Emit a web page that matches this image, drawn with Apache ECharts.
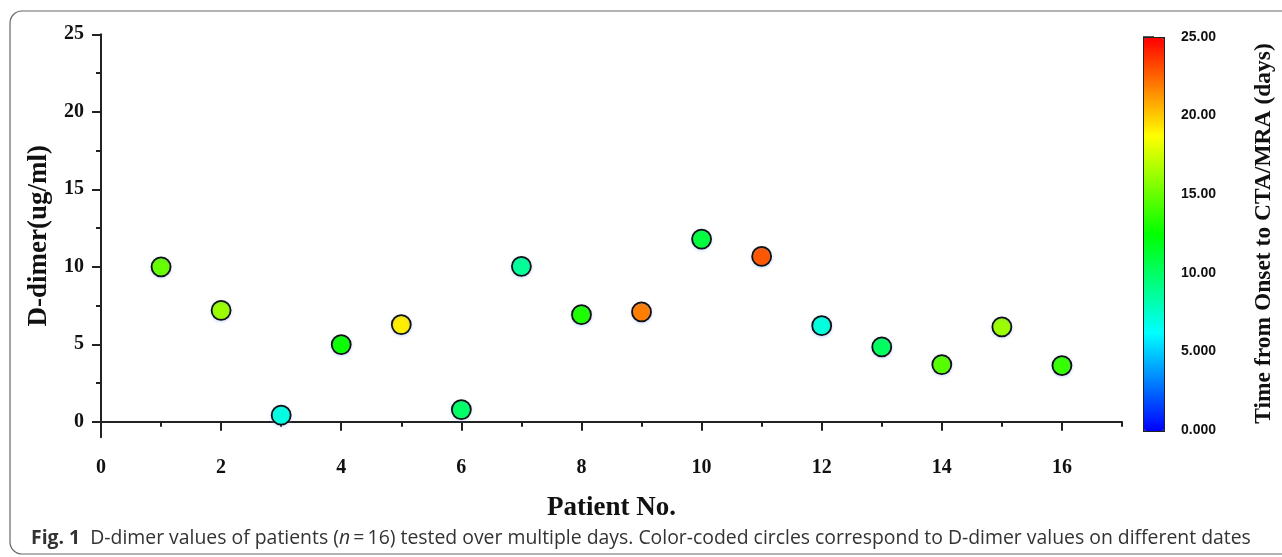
<!DOCTYPE html>
<html>
<head>
<meta charset="utf-8">
<script src="https://cdn.jsdelivr.net/npm/echarts@6/dist/echarts.min.js"></script>
<style>
html,body{margin:0;padding:0;background:#fff;}
#c{width:1282px;height:557px;}
</style>
</head>
<body>
<div id="c"></div>
<script>
// ---- data ----
const patients = [1,2,3,4,5,6,7,8,9,10,11,12,13,14,15,16];
const ddimer   = [10.0,7.19,0.43,4.98,6.27,0.79,10.03,6.91,7.09,11.79,10.67,6.2,4.83,3.69,6.12,3.63];
const days     = [15.0,16.3,7.0,12.8,19.2,10.0,8.8,13.2,21.9,11.0,22.9,7.1,10.2,14.6,16.3,13.8];
const xMajorTicks = [0,2,4,6,8,10,12,14,16];
const xMinorTicks = [1,3,5,7,9,11,13,15,17];
const yMajorTicks = [0,5,10,15,20,25];
const yMinorTicks = [2.5,7.5,12.5,17.5,22.5];
const cbTicks = [0,5,10,15,20,25];

const points = patients.map((p,i)=>[p, ddimer[i], days[i]]);

const serif = 'Liberation Serif, Times New Roman, serif';
const sans = 'Liberation Sans, Arial, sans-serif';
const axisCol = '#222';

const chart = echarts.init(document.getElementById('c'), null, {renderer:'canvas'});
chart.setOption({
  animation:false,
  backgroundColor:'#fff',
  graphic:[{
    type:'rect',
    shape:{x:10,y:11,width:1300,height:543,r:12},
    style:{fill:'none',stroke:'#666',lineWidth:1.2},
    silent:true, z:-1
  }],
  title:{
    left:26, top:524,
    text:'{b|Fig. 1}  D-dimer values of patients ({i|n}\u2009=\u200916) tested over multiple days. Color-coded circles correspond to D-dimer values on different dates',
    textStyle:{
      fontFamily:'Open Sans', fontSize:19.4, fontWeight:'normal', color:'#333',
      rich:{
        b:{fontFamily:'Open Sans', fontSize:19.4, fontWeight:'bold', color:'#333'},
        i:{fontFamily:'Open Sans', fontSize:19.4, fontStyle:'italic', color:'#333'}
      }
    }
  },
  grid:[
    {left:101, top:34.3, width:1021, height:403},
    {left:1143, top:37, width:20, height:393, show:false}
  ],
  xAxis:[
    {
      type:'value', gridIndex:0, min:0, max:17,
      name:'Patient No.', nameLocation:'middle', nameGap:57,
      nameTextStyle:{fontFamily:serif, fontWeight:'bold', fontSize:27, color:'#111'},
      axisLine:{show:true, lineStyle:{color:axisCol, width:2}},
      axisTick:{show:true, inside:false, length:9, lineStyle:{color:axisCol, width:2}, customValues:xMajorTicks},
      axisLabel:{show:true, margin:21, fontFamily:serif, fontWeight:'bold', fontSize:20, color:'#111', customValues:xMajorTicks},
      splitLine:{show:false}
    },
    {
      type:'value', gridIndex:0, min:0, max:17, position:'bottom',
      axisLine:{show:false},
      axisTick:{show:true, inside:false, length:5, lineStyle:{color:axisCol, width:2}, customValues:xMinorTicks},
      axisLabel:{show:false, customValues:xMinorTicks},
      splitLine:{show:false}
    },
    {
      type:'value', gridIndex:1, min:0, max:1, show:false
    }
  ],
  yAxis:[
    {
      type:'value', gridIndex:0, min:-1, max:25,
      name:'D-dimer(ug/ml)', nameLocation:'middle', nameGap:48, nameRotate:90,
      nameTextStyle:{fontFamily:serif, fontWeight:'bold', fontSize:27, color:'#111'},
      axisLine:{show:true, lineStyle:{color:axisCol, width:2}},
      axisTick:{show:true, inside:false, length:9, lineStyle:{color:axisCol, width:2}, customValues:yMajorTicks},
      axisLabel:{show:true, margin:17, fontFamily:serif, fontWeight:'bold', fontSize:20, color:'#111', customValues:yMajorTicks},
      splitLine:{show:false}
    },
    {
      type:'value', gridIndex:0, min:-1, max:25, position:'left',
      axisLine:{show:false},
      axisTick:{show:true, inside:false, length:5, lineStyle:{color:axisCol, width:2}, customValues:yMinorTicks},
      axisLabel:{show:false, customValues:yMinorTicks},
      splitLine:{show:false}
    },
    {
      type:'value', gridIndex:1, min:0, max:25, position:'right',
      name:'Time from Onset to CTA/MRA (days)', nameLocation:'middle', nameGap:89, nameRotate:90,
      nameTextStyle:{fontFamily:serif, fontWeight:'bold', fontSize:23.5, color:'#111'},
      axisLine:{show:false},
      axisTick:{show:true, inside:false, length:11, lineStyle:{color:axisCol, width:1.5}, customValues:cbTicks},
      axisLabel:{show:true, margin:18, fontFamily:sans, fontWeight:'bold', fontSize:14, color:'#111',
        customValues:cbTicks,
        formatter:v=> v<10 ? v.toFixed(3) : v.toFixed(2)},
      splitLine:{show:false}
    }
  ],
  visualMap:{
    type:'continuous', min:0, max:25, dimension:2, seriesIndex:0,
    inRange:{color:['#0000ff','#00ffff','#00ff00','#ffff00','#ff0000']},
    left:1143, top:37, itemWidth:20, itemHeight:393,
    text:null, showLabel:false, calculable:false, hoverLink:false,
    padding:0, borderColor:'#222', borderWidth:2, orient:'vertical'
  },
  series:[{
    type:'scatter', xAxisIndex:0, yAxisIndex:0,
    data:points, symbol:'circle', symbolSize:19,
    itemStyle:{borderColor:'#111', borderWidth:1.8, opacity:1,
      shadowColor:'rgba(120,160,255,0.35)', shadowBlur:3, shadowOffsetY:1},
    z:5
  }]
});
</script>
</body>
</html>
